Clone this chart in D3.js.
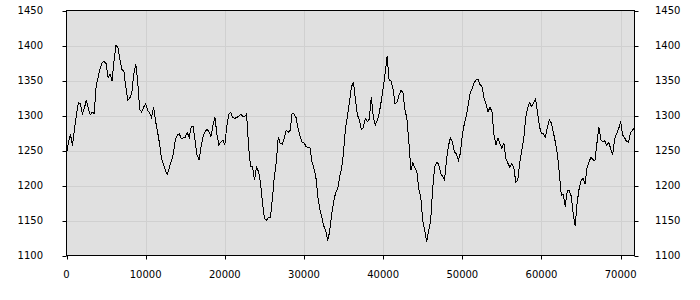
<!DOCTYPE html>
<html>
<head>
<meta charset="utf-8">
<script src="https://cdn.jsdelivr.net/npm/d3@7"></script>
<style>
  body { margin: 0; background: #fff; }
  svg { display: block; }
</style>
</head>
<body>
<div id="chart"></div>
<script>
// samples every 250 units along x
const step = 250;
const values = [
  1245,1262,1273,1257,1280,1301,1318,1317,1302,1310,1322,1310,1301,1305,1303,1343,1355,1367,1376,1377,
  1374,1354,1359,1350,1378,1400,1397,1380,1366,1363,1340,1322,1325,1333,1359,1374,1348,1308,1305,1312,
  1317,1307,1304,1297,1312,1292,1277,1260,1239,1230,1221,1216,1226,1235,1246,1265,1272,1274,1267,1268,
  1269,1276,1268,1284,1284,1263,1243,1237,1255,1270,1277,1280,1277,1270,1286,1298,1273,1258,1262,1265,
  1258,1285,1302,1304,1297,1296,1297,1299,1302,1299,1299,1302,1256,1227,1227,1208,1226,1220,1205,1176,
  1153,1150,1154,1154,1180,1212,1233,1269,1260,1259,1267,1279,1276,1279,1303,1302,1297,1282,1270,1262,
  1261,1256,1254,1254,1234,1225,1212,1184,1166,1155,1142,1136,1121,1135,1160,1177,1190,1195,1212,1224,
  1248,1283,1300,1320,1341,1348,1322,1301,1293,1280,1283,1296,1291,1295,1327,1298,1286,1293,1303,1320,
  1339,1360,1385,1351,1349,1338,1317,1319,1329,1336,1333,1308,1296,1262,1222,1233,1225,1220,1195,1184,
  1150,1136,1120,1136,1150,1194,1226,1233,1231,1218,1213,1208,1236,1257,1268,1262,1248,1245,1236,1246,
  1272,1288,1300,1315,1333,1339,1347,1351,1351,1344,1341,1325,1316,1305,1312,1305,1272,1258,1268,1260,
  1253,1261,1238,1232,1226,1231,1226,1205,1207,1232,1250,1265,1296,1311,1318,1313,1318,1323,1305,1284,
  1274,1274,1269,1283,1294,1289,1276,1262,1245,1219,1186,1187,1170,1192,1193,1185,1160,1142,1175,1195,
  1207,1210,1202,1225,1234,1240,1237,1235,1260,1284,1265,1262,1264,1257,1262,1252,1244,1267,1274,1281,
  1292,1272,1268,1263,1262,1276,1279,1282
];
const xTicks = [0, 10000, 20000, 30000, 40000, 50000, 60000, 70000];
const yTicks = [1100, 1150, 1200, 1250, 1300, 1350, 1400, 1450];

const data = values.map((v, i) => ({x: i * step, y: v}));

const width = 700, height = 300;
const margin = {top: 10, right: 66, bottom: 45, left: 66};

const x = d3.scaleLinear()
  .domain(d3.extent(data, d => d.x))
  .range([margin.left + 0.5, width - margin.right + 0.5]);
const y = d3.scaleLinear()
  .domain([1100, 1450])
  .range([height - margin.bottom + 0.5, margin.top + 0.5]);

const svg = d3.select("#chart").append("svg")
  .attr("width", width)
  .attr("height", height)
  .attr("font-family", "DejaVu Sans, Verdana, sans-serif")
  .attr("font-size", 10);

svg.append("rect")
  .attr("x", x.range()[0])
  .attr("y", y.range()[1])
  .attr("width", x.range()[1] - x.range()[0])
  .attr("height", y.range()[0] - y.range()[1])
  .attr("fill", "#e0e0e0");

// grid
svg.append("g")
  .attr("stroke", "#d0d0d0")
  .selectAll("line")
  .data(yTicks.slice(1, -1))
  .join("line")
  .attr("x1", x.range()[0]).attr("x2", x.range()[1])
  .attr("y1", d => Math.round(y(d)) + 0.5).attr("y2", d => Math.round(y(d)) + 0.5);

svg.append("g")
  .attr("stroke", "#d0d0d0")
  .selectAll("line")
  .data(xTicks.slice(1))
  .join("line")
  .attr("y1", y.range()[0]).attr("y2", y.range()[1])
  .attr("x1", d => Math.round(x(d)) + 0.5).attr("x2", d => Math.round(x(d)) + 0.5);

const line = d3.line()
  .x(d => x(d.x))
  .y(d => y(d.y));

svg.append("path")
  .datum(data)
  .attr("fill", "none")
  .attr("stroke", "#000")
  .attr("stroke-width", 1)
  .attr("shape-rendering", "crispEdges")
  .attr("d", line);

svg.append("rect")
  .attr("x", x.range()[0])
  .attr("y", y.range()[1])
  .attr("width", x.range()[1] - x.range()[0])
  .attr("height", y.range()[0] - y.range()[1])
  .attr("fill", "none")
  .attr("stroke", "#000");

// axes
const left = svg.append("g");
left.selectAll("line").data(yTicks).join("line")
  .attr("stroke", "#000")
  .attr("x1", x.range()[0] - 4).attr("x2", x.range()[0])
  .attr("y1", d => Math.round(y(d)) + 0.5).attr("y2", d => Math.round(y(d)) + 0.5);
left.selectAll("text").data(yTicks).join("text")
  .attr("x", 43)
  .attr("y", d => y(d))
  .attr("dy", "0.35em")
  .attr("text-anchor", "end")
  .text(d => d);

const right = svg.append("g");
right.selectAll("line").data(yTicks).join("line")
  .attr("stroke", "#000")
  .attr("x1", x.range()[1]).attr("x2", x.range()[1] + 4)
  .attr("y1", d => Math.round(y(d)) + 0.5).attr("y2", d => Math.round(y(d)) + 0.5);
right.selectAll("text").data(yTicks).join("text")
  .attr("x", 655)
  .attr("y", d => y(d))
  .attr("dy", "0.35em")
  .text(d => d);

const bottom = svg.append("g");
bottom.selectAll("line").data(xTicks).join("line")
  .attr("stroke", "#000")
  .attr("y1", y.range()[0]).attr("y2", y.range()[0] + 4)
  .attr("x1", d => Math.round(x(d)) + 0.5).attr("x2", d => Math.round(x(d)) + 0.5);
bottom.selectAll("text").data(xTicks).join("text")
  .attr("x", d => x(d))
  .attr("y", 278)
  .attr("text-anchor", "middle")
  .text(d => d);
</script>
</body>
</html>
